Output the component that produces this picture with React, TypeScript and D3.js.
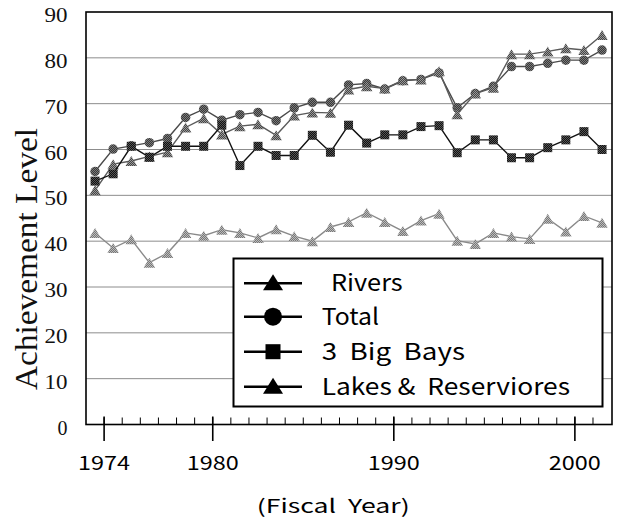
import React from 'react';
import * as d3 from 'd3';

const years = [1974, 1975, 1976, 1977, 1978, 1979, 1980, 1981, 1982, 1983, 1984, 1985, 1986, 1987, 1988, 1989, 1990, 1991, 1992, 1993, 1994, 1995, 1996, 1997, 1998, 1999, 2000, 2001, 2002];
const totalValues = [55.2, 60.1, 60.8, 61.5, 62.4, 67.0, 68.8, 66.4, 67.6, 68.1, 66.3, 69.1, 70.3, 70.3, 74.1, 74.4, 73.2, 75.0, 75.3, 76.7, 69.1, 72.2, 73.8, 78.1, 78.1, 78.8, 79.5, 79.5, 81.7];
const riversValues = [51.1, 56.8, 57.5, 58.5, 59.4, 64.8, 66.8, 63.3, 65.1, 65.5, 63.1, 67.4, 68.1, 68.0, 73.1, 73.8, 73.3, 75.1, 75.3, 77.1, 67.7, 72.2, 73.5, 80.8, 80.8, 81.4, 82.1, 81.7, 85.0];
const baysValues = [53.1, 54.7, 60.7, 58.3, 60.7, 60.7, 60.7, 65.3, 56.5, 60.7, 58.7, 58.7, 63.1, 59.4, 65.3, 61.4, 63.2, 63.2, 65.0, 65.2, 59.3, 62.1, 62.1, 58.2, 58.2, 60.4, 62.1, 63.9, 60.0];
const lakesValues = [41.8, 38.5, 40.4, 35.3, 37.4, 41.8, 41.2, 42.5, 41.8, 40.7, 42.6, 41.1, 40.0, 43.1, 44.2, 46.2, 44.2, 42.2, 44.5, 46.0, 40.1, 39.4, 41.8, 41.0, 40.5, 44.9, 42.1, 45.5, 44.0];
const yTicks = [0, 10, 20, 30, 40, 50, 60, 70, 80, 90];
const xMajorTicks = [1974, 1980, 1990, 2000];
const legendLabels = [' Rivers', 'Total', '3  Big  Bays', 'Lakes &  Reserviores'];

const W = 621;
const H = 519;
const L = 86, R = 612, T = 12, B = 424.5;

const x = d3.scaleLinear().domain([1973.5, 2002.55]).range([L, R]);
const y = d3.scaleLinear().domain([0, 90]).range([B, T]);

function triPath(cx: number, cy: number, w: number, h: number) {
  return `M${cx},${cy - h / 2}L${cx + w / 2},${cy + h / 2}L${cx - w / 2},${cy + h / 2}Z`;
}

type Series = { name: string; values: number[]; shape: 'tri' | 'circle' | 'square'; line: string; fill: string };

const series: Series[] = [
  { name: 'lakes', values: lakesValues, shape: 'tri', line: '#8a8a8a', fill: 'url(#patLakes)' },
  { name: 'total', values: totalValues, shape: 'circle', line: '#4a4a4a', fill: 'url(#patTotal)' },
  { name: 'rivers', values: riversValues, shape: 'tri', line: '#5a5a5a', fill: 'url(#patRivers)' },
  { name: 'bays', values: baysValues, shape: 'square', line: '#111', fill: 'url(#patBays)' },
];

function Marker({ shape, cx, cy, fill, size }: { shape: string; cx: number; cy: number; fill: string; size: number }) {
  if (shape === 'circle') return <circle cx={cx} cy={cy} r={size / 2} fill={fill} />;
  if (shape === 'square') return <rect x={cx - size / 2} y={cy - size / 2} width={size} height={size} fill={fill} />;
  return <path d={triPath(cx, cy, size * 1.15, size)} fill={fill} />;
}

export default function App() {
  const line = d3.line<number>().x((_, i) => x(years[i])).y((v) => y(v));
  const minorTicks = years.slice(0, years.length - 1).map((yr) => yr + 0.5);
  const legendRows = [283.3, 316.7, 351.7, 386.7];
  const legendShapes = ['tri', 'circle', 'square', 'tri'];
  const legendTextX = [331, 321.7, 321.7, 321.7];
  const legendTextLen = [71.7, 57.3, 143.3, 248.3];

  return (
    <svg width={W} height={H} style={{ position: 'absolute', left: 0, top: 0, background: '#fff' }}>
      <defs>
        <pattern id="patTotal" width="2" height="2" patternUnits="userSpaceOnUse">
          <rect width="2" height="2" fill="#383838" />
          <rect width="1" height="1" fill="#7a7a7a" />
          <rect x="1" y="1" width="1" height="1" fill="#7a7a7a" />
        </pattern>
        <pattern id="patRivers" width="2" height="2" patternUnits="userSpaceOnUse">
          <rect width="2" height="2" fill="#444" />
          <rect width="1" height="1" fill="#999" />
          <rect x="1" y="1" width="1" height="1" fill="#999" />
        </pattern>
        <pattern id="patBays" width="2" height="2" patternUnits="userSpaceOnUse">
          <rect width="2" height="2" fill="#111" />
          <rect width="1" height="1" fill="#555" />
          <rect x="1" y="1" width="1" height="1" fill="#555" />
        </pattern>
        <pattern id="patLakes" width="2" height="2" patternUnits="userSpaceOnUse">
          <rect width="2" height="2" fill="#777" />
          <rect width="1" height="1" fill="#bbb" />
          <rect x="1" y="1" width="1" height="1" fill="#bbb" />
        </pattern>
      </defs>

      {/* gridlines */}
      {yTicks.filter((t) => t > 0 && t < 90).map((t) => (
        <line key={'g' + t} x1={L} x2={R} y1={y(t)} y2={y(t)} stroke="#8c8c8c" strokeWidth={1} />
      ))}

      {/* y tick labels */}
      {yTicks.map((t) => (
        <text key={'yt' + t} x={67.5} y={y(t) + 10} textAnchor="end" fontFamily="'Liberation Serif', 'DejaVu Serif', serif" fontSize={20}
          textLength={t >= 10 ? 23 : undefined} lengthAdjust="spacingAndGlyphs" fill="#111">
          {t}
        </text>
      ))}

      {/* y axis label */}
      <text transform="translate(37,259) rotate(-90)" textAnchor="middle" fontFamily="'Liberation Serif', 'DejaVu Serif', serif" fontSize={31}
        textLength={262} lengthAdjust="spacingAndGlyphs" fill="#111">
        Achievement Level
      </text>

      {/* series */}
      {series.map((s) => (
        <g key={s.name}>
          <path d={line(s.values) || ''} fill="none" stroke={s.line} strokeWidth={1.4} />
          {s.values.map((v, i) => (
            <Marker key={i} shape={s.shape} cx={x(years[i])} cy={y(v)} fill={s.fill} size={s.shape === 'circle' ? 9.5 : s.shape === 'square' ? 9 : 10} />
          ))}
        </g>
      ))}

      {/* frame */}
      <rect x={L} y={T} width={R - L} height={B - T} fill="none" stroke="#000" strokeWidth={1.6} />

      {/* minor ticks */}
      {minorTicks.map((t) => (
        <line key={'mt' + t} x1={x(t)} x2={x(t)} y1={B - 7} y2={B} stroke="#000" strokeWidth={1} />
      ))}
      {/* major ticks */}
      {xMajorTicks.map((t) => (
        <g key={'Mt' + t}>
          <line x1={x(t + 0.5)} x2={x(t + 0.5)} y1={B - 8} y2={B + 16.5} stroke="#000" strokeWidth={1.6} />
          <text x={x(t + 0.5)} y={470} textAnchor="middle" fontFamily="'Noto Sans CJK JP', 'DejaVu Sans', sans-serif" fontSize={19}
            textLength={52} lengthAdjust="spacingAndGlyphs" fill="#000">
            {t}
          </text>
        </g>
      ))}

      {/* x axis title */}
      <text x={256.7} y={513} fontFamily="'Noto Sans CJK JP', 'DejaVu Sans', sans-serif" fontSize={19} textLength={153}
        lengthAdjust="spacingAndGlyphs" fill="#000" style={{ whiteSpace: 'pre' }}>
        {'(Fiscal  Year)'}
      </text>

      {/* legend */}
      <rect x={233.5} y={258.5} width={369} height={148} fill="#fff" stroke="#000" strokeWidth={2} />
      {legendLabels.map((lab, i) => (
        <g key={'lg' + i}>
          <line x1={244} x2={302} y1={legendRows[i]} y2={legendRows[i]} stroke="#000" strokeWidth={2.5} />
          {legendShapes[i] === 'tri' && <path d={triPath(273, legendRows[i] - 1, 20, 16)} fill="#000" />}
          {legendShapes[i] === 'circle' && <circle cx={273} cy={legendRows[i]} r={9} fill="#000" />}
          {legendShapes[i] === 'square' && <rect x={265.5} y={legendRows[i] - 7.5} width={15} height={15} fill="#000" />}
          <text x={legendTextX[i]} y={legendRows[i] + 8} fontFamily="'Noto Sans CJK JP', 'DejaVu Sans', sans-serif" fontSize={23}
            textLength={legendTextLen[i]} lengthAdjust="spacingAndGlyphs" fill="#000" style={{ whiteSpace: 'pre' }}>
            {lab.trim()}
          </text>
        </g>
      ))}
    </svg>
  );
}
